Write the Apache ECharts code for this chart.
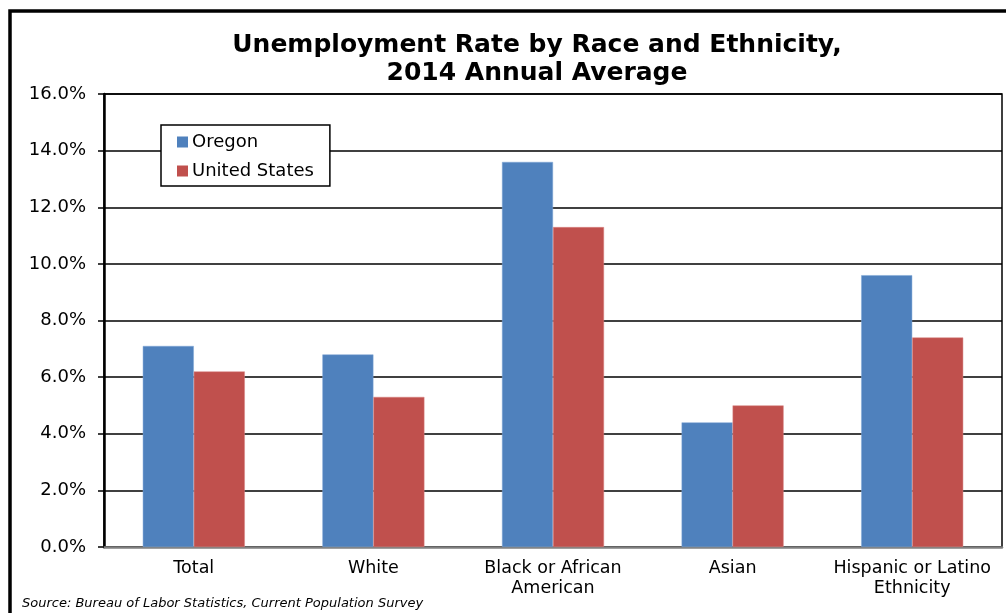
<!DOCTYPE html>
<html><head><meta charset="utf-8">
<script src="https://cdn.jsdelivr.net/npm/echarts@6/dist/echarts.min.js"></script>
<style>html,body{margin:0;padding:0;background:#fff}#c{width:1006px;height:613px}</style>
</head><body><div id="c"></div>
<script>
const categories = ['Total', 'White', 'Black or African\nAmerican', 'Asian', 'Hispanic or Latino\nEthnicity'];
const oregon = [7.1, 6.8, 13.6, 4.4, 9.6];
const unitedStates = [6.2, 5.3, 11.3, 5.0, 7.4];
const seriesNames = ['Oregon', 'United States'];
const yTicks = { min: 0, max: 16, interval: 2 };

const chart = echarts.init(document.getElementById('c'), null, { renderer: 'canvas' });
const font = 'DejaVu Sans, Verdana, sans-serif';
chart.setOption({
  animation: false,
  backgroundColor: '#fff',
  title: {
    text: 'Unemployment Rate by Race and Ethnicity,\n2014 Annual Average',
    left: 532, textAlign: 'center', top: 26,
    textStyle: { fontFamily: font, fontSize: 25, fontWeight: 'bold', color: '#000', lineHeight: 28 }
  },
  legend: {
    orient: 'vertical', left: 161, top: 125,
    padding: [8, 16, 6, 16],
    itemWidth: 11, itemHeight: 11, itemGap: 11,
    borderColor: '#000', borderWidth: 1.5, backgroundColor: '#fff',
    icon: 'rect',
    itemStyle: { borderWidth: 0 },
    textStyle: { fontFamily: font, fontSize: 18, color: '#000', padding: [0, 0, 0, -1] },
    data: seriesNames
  },
  grid: {
    left: 104, top: 94, right: 4, bottom: 66,
    show: true, borderColor: '#000', borderWidth: 1.5, backgroundColor: 'transparent'
  },
  xAxis: {
    type: 'category', data: categories,
    axisLine: { lineStyle: { color: '#808080', width: 2.5 } },
    axisTick: { show: false },
    axisLabel: { fontFamily: font, fontSize: 17.5, color: '#000', margin: 11, lineHeight: 20, interval: 0 }
  },
  yAxis: {
    type: 'value', min: yTicks.min, max: yTicks.max, interval: yTicks.interval,
    axisLine: { show: true, lineStyle: { color: '#000', width: 2.5 } },
    axisTick: { show: true, length: 6, lineStyle: { color: '#000', width: 1.5 } },
    splitLine: { lineStyle: { color: '#000', width: 1.5 } },
    axisLabel: { fontFamily: font, fontSize: 18, color: '#000', margin: 18,
      formatter: v => v.toFixed(1) + '%' }
  },
  series: [
    { name: seriesNames[0], type: 'bar', data: oregon, barWidth: 51, barGap: '0%',
      itemStyle: { color: '#4F81BD', borderColor: '#7ea6d6', borderWidth: 0.5 } },
    { name: seriesNames[1], type: 'bar', data: unitedStates, barWidth: 51, barGap: '0%',
      itemStyle: { color: '#C0504D', borderColor: '#d88583', borderWidth: 0.5 } }
  ],
  graphic: [
    { type: 'rect', shape: { x: 10, y: 11, width: 1100, height: 700 },
      style: { fill: null, stroke: '#000', lineWidth: 3.5 }, z: 100 },
    { type: 'text', left: 22, top: 597,
      style: { text: 'Source: Bureau of Labor Statistics, Current Population Survey',
        font: 'italic 13px DejaVu Sans, Verdana, sans-serif', fill: '#000' } }
  ]
});
</script></body></html>
